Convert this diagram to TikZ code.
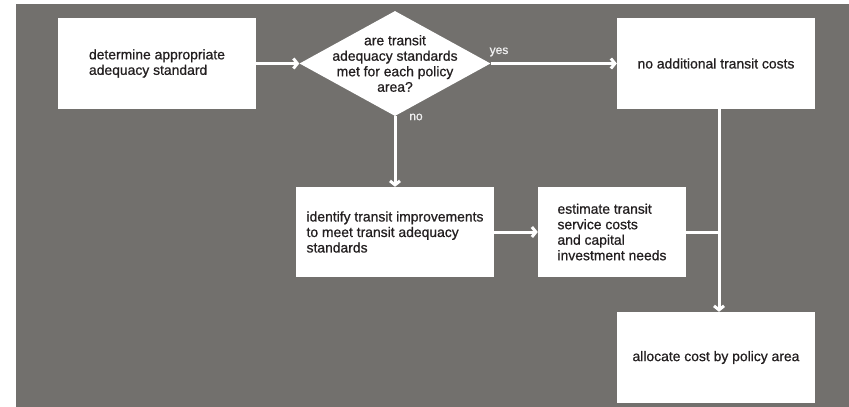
\documentclass[tikz,border=0pt]{standalone}
\usepackage{fontspec}
\setmainfont{Liberation Sans}
\newfontfamily\heavysans[FakeBold=0.7]{Liberation Sans}
\usepackage{xcolor}
\usetikzlibrary{arrows.meta, shapes.geometric}
\definecolor{bggray}{RGB}{114,112,109}
\definecolor{inkgray}{RGB}{35,31,32}
\definecolor{notegray}{RGB}{240,240,240}

\begin{document}
\begin{tikzpicture}[x=1pt, y=-1pt]
		\tikzset{box/.style = {shape=rectangle, fill=white, minimum width=198pt, minimum height=91pt, inner sep=0pt, align=left, text=inkgray, font=\heavysans\fontsize{13.9}{15.5}\selectfont}}
		\tikzset{question/.style = {shape=diamond, fill=white, minimum width=191pt, minimum height=105pt, inner sep=0pt}}
		\tikzset{qtext/.style = {inner sep=0pt, align=center, text=inkgray, font=\heavysans\fontsize{13.9}{15.5}\selectfont}}
		\tikzset{answer/.style = {inner sep=0pt, text=notegray, font=\heavysans\fontsize{12}{14}\selectfont}}
		\tikzset{wire/.style = {draw=white, line width=3pt}}
		\tikzset{edge/.style = {wire, -{Straight Barb[length=4pt, width=10pt]}}}

		\useasboundingbox (0,0) rectangle (849,407);
		\fill[bggray] (16,4) rectangle (849,407);

		\node[box] (D) at (157,63.5) {determine appropriate\\adequacy standard};
		\node[question, label={[qtext]center:{are transit\\adequacy standards\\met for each policy\\area?}}] (Q) at (395,63.5) {};
		\node[box] (N) at (716,63.5) {no additional transit costs};
		\node[box, minimum height=90pt] (I) at (395,232) {identify transit improvements\\to meet transit adequacy\\standards};
		\node[box, minimum width=148pt, minimum height=90pt] (E) at (612,232) {estimate transit\\service costs\\and capital\\investment needs};
		\node[box] (A) at (716,357.5) {allocate cost by policy area};

		\node[answer] (yes) at (499,52) {yes};
		\node[answer] (no) at (416,117) {no};

		\coordinate (J) at (719,232);

		\draw[edge] (D) to (Q);
		\draw[edge] (Q) to (N);
		\draw[edge] (Q) to (I);
		\draw[edge] (I) to (E);
		\draw[wire] (E) to (J);
		\draw[edge] (N.south -| J) to (A.north -| J);

	\end{tikzpicture}
\end{document}
